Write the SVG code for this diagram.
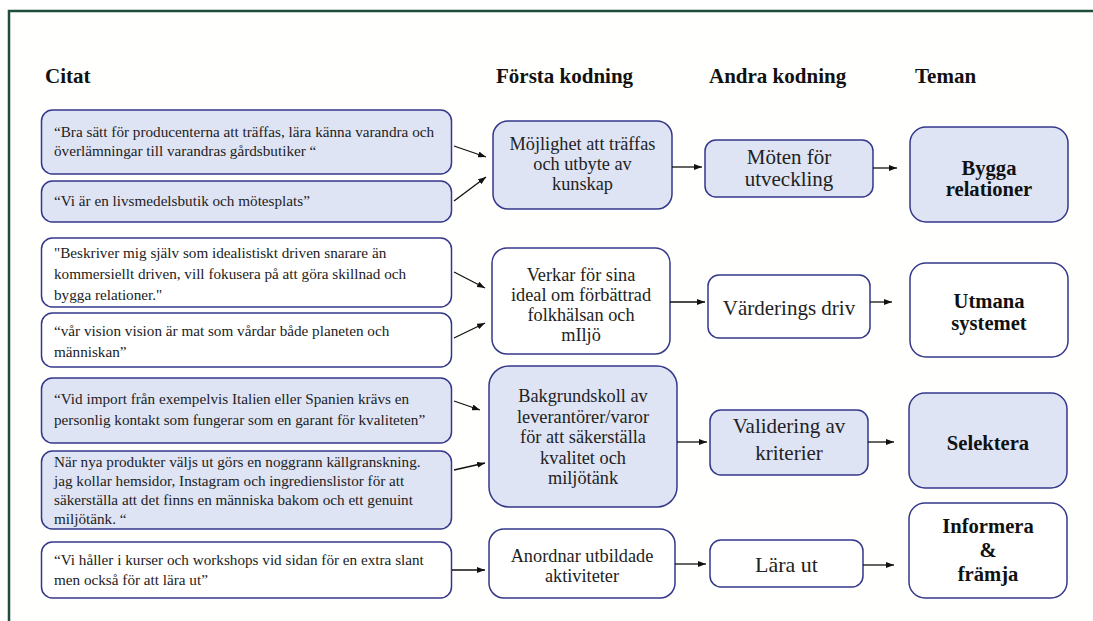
<svg xmlns="http://www.w3.org/2000/svg" width="1093" height="621" viewBox="0 0 1093 621">
<defs>
<marker id="ah" markerUnits="userSpaceOnUse" markerWidth="8" markerHeight="6" refX="8" refY="3" orient="auto">
<path d="M0,0 L8,3 L0,6 z" fill="#111"/>
</marker>
<style>
.bl{fill:#dfe4f5;stroke:#35378a;stroke-width:1.5}
.wh{fill:#ffffff;stroke:#35378a;stroke-width:1.5}
.q{font-family:"Liberation Serif","Times New Roman",serif;font-size:15.2px;fill:#222}
.f{font-family:"Liberation Serif","Times New Roman",serif;font-size:18.3px;fill:#222;text-anchor:middle}
.a{font-family:"Liberation Serif","Times New Roman",serif;font-size:21px;fill:#222;text-anchor:middle}
.t{font-family:"Liberation Serif","Times New Roman",serif;font-size:20.6px;font-weight:bold;fill:#111;text-anchor:middle}
.h{font-family:"Liberation Serif","Times New Roman",serif;font-size:21px;font-weight:bold;fill:#111}
.c{fill:none;stroke:#111;stroke-width:1.3;marker-end:url(#ah)}
</style>
</defs>
<rect x="0" y="0" width="1093" height="621" fill="#ffffff"/>
<rect x="9" y="11" width="1100" height="640" fill="#fffffd" stroke="#1f4d39" stroke-width="2.5"/>

<g id="headings">
<text class="h" x="45" y="83">Citat</text>
<text class="h" x="496" y="83">Första kodning</text>
<text class="h" x="709" y="83">Andra kodning</text>
<text class="h" x="915" y="83">Teman</text>
</g>

<g id="q1"><rect class="bl" x="41.5" y="110" width="410" height="64" rx="11"/>
<text class="q" x="54" y="137">“Bra sätt för producenterna att träffas, lära känna varandra och</text>
<text class="q" x="54" y="156">överlämningar till varandras gårdsbutiker “</text></g>
<g id="q2"><rect class="bl" x="41.5" y="181" width="410" height="41" rx="11"/>
<text class="q" x="54" y="206">“Vi är en livsmedelsbutik och mötesplats”</text></g>
<g id="q3"><rect class="wh" x="41.5" y="238" width="410" height="69" rx="11"/>
<text class="q" x="54" y="258">"Beskriver mig själv som idealistiskt driven snarare än</text>
<text class="q" x="54" y="279">kommersiellt driven, vill fokusera på att göra skillnad och</text>
<text class="q" x="54" y="300">bygga relationer."</text></g>
<g id="q4"><rect class="wh" x="41.5" y="313" width="410" height="54" rx="11"/>
<text class="q" x="54" y="336">“vår vision vision är mat som vårdar både planeten och</text>
<text class="q" x="54" y="357">människan”</text></g>
<g id="q5"><rect class="bl" x="41.5" y="378" width="410" height="65" rx="11"/>
<text class="q" x="54" y="404">“Vid import från exempelvis Italien eller Spanien krävs en</text>
<text class="q" x="54" y="425">personlig kontakt som fungerar som en garant för kvaliteten”</text></g>
<g id="q6"><rect class="bl" x="41.5" y="451" width="410" height="78" rx="11"/>
<text class="q" x="54" y="467">När nya produkter väljs ut görs en noggrann källgranskning.</text>
<text class="q" x="54" y="486">jag kollar hemsidor, Instagram och ingredienslistor för att</text>
<text class="q" x="54" y="505">säkerställa att det finns en människa bakom och ett genuint</text>
<text class="q" x="54" y="524">miljötänk. “</text></g>
<g id="q7"><rect class="wh" x="41.5" y="542" width="410" height="56" rx="11"/>
<text class="q" x="54" y="565">“Vi håller i kurser och workshops vid sidan för en extra slant</text>
<text class="q" x="54" y="585">men också för att lära ut”</text></g>

<g id="f1"><rect class="bl" x="493" y="121" width="179" height="88" rx="15"/>
<text class="f" x="582.5" y="150">Möjlighet att träffas</text>
<text class="f" x="582.5" y="170">och utbyte av</text>
<text class="f" x="582.5" y="190">kunskap</text></g>
<g id="f2"><rect class="wh" x="492" y="248" width="178" height="106" rx="15"/>
<text class="f" x="581" y="281">Verkar för sina</text>
<text class="f" x="581" y="301">ideal om förbättrad</text>
<text class="f" x="581" y="321">folkhälsan och</text>
<text class="f" x="581" y="341">mIljö</text></g>
<g id="f3"><rect class="bl" x="489" y="366" width="188" height="141" rx="20"/>
<text class="f" x="583" y="402">Bakgrundskoll av</text>
<text class="f" x="583" y="422.5">leverantörer/varor</text>
<text class="f" x="583" y="443">för att säkerställa</text>
<text class="f" x="583" y="463.5">kvalitet och</text>
<text class="f" x="583" y="484">miljötänk</text></g>
<g id="f4"><rect class="wh" x="489" y="529" width="186" height="69" rx="15"/>
<text class="f" x="582" y="562">Anordnar utbildade</text>
<text class="f" x="582" y="582">aktiviteter</text></g>

<g id="a1"><rect class="bl" x="705" y="140" width="168" height="57" rx="11"/>
<text class="a" x="789" y="164">Möten för</text>
<text class="a" x="789" y="186">utveckling</text></g>
<g id="a2"><rect class="wh" x="708" y="275" width="162" height="63" rx="11"/>
<text class="a" x="789" y="315">Värderings driv</text></g>
<g id="a3"><rect class="bl" x="710" y="410" width="158" height="65" rx="11"/>
<text class="a" x="789" y="433">Validering av</text>
<text class="a" x="789" y="460">kriterier</text></g>
<g id="a4"><rect class="wh" x="710" y="540" width="153" height="47" rx="11"/>
<text class="a" x="786.5" y="572" style="font-size:22px">Lära ut</text></g>

<g id="t1"><rect class="bl" x="910" y="127" width="158" height="95" rx="16"/>
<text class="t" x="989" y="175">Bygga</text>
<text class="t" x="989" y="196">relationer</text></g>
<g id="t2"><rect class="wh" x="910" y="263" width="158" height="94" rx="16"/>
<text class="t" x="989" y="308">Utmana</text>
<text class="t" x="989" y="330">systemet</text></g>
<g id="t3"><rect class="bl" x="909" y="393" width="158" height="95" rx="16"/>
<text class="t" x="988" y="450">Selektera</text></g>
<g id="t4"><rect class="wh" x="909" y="503" width="158" height="95" rx="16"/>
<text class="t" x="988" y="533">Informera</text>
<text class="t" x="988" y="557">&amp;</text>
<text class="t" x="988" y="581">främja</text></g>

<g id="connectors">
<path class="c" d="M454,146 L486,157"/>
<path class="c" d="M454,201 L486,177"/>
<path class="c" d="M454,272 L485,288"/>
<path class="c" d="M454,338 L485,323"/>
<path class="c" d="M454,401 L480,410"/>
<path class="c" d="M454,470 L485,463"/>
<path class="c" d="M452,570 L485,570"/>
<path class="c" d="M672,167 L702,167"/>
<path class="c" d="M670,302 L705,302"/>
<path class="c" d="M677,442 L707,442"/>
<path class="c" d="M675,564 L706,564"/>
<path class="c" d="M873,168 L897,168"/>
<path class="c" d="M870,302 L892,302"/>
<path class="c" d="M868,442 L894,442"/>
<path class="c" d="M863,565 L894,565"/>
</g>
</svg>
